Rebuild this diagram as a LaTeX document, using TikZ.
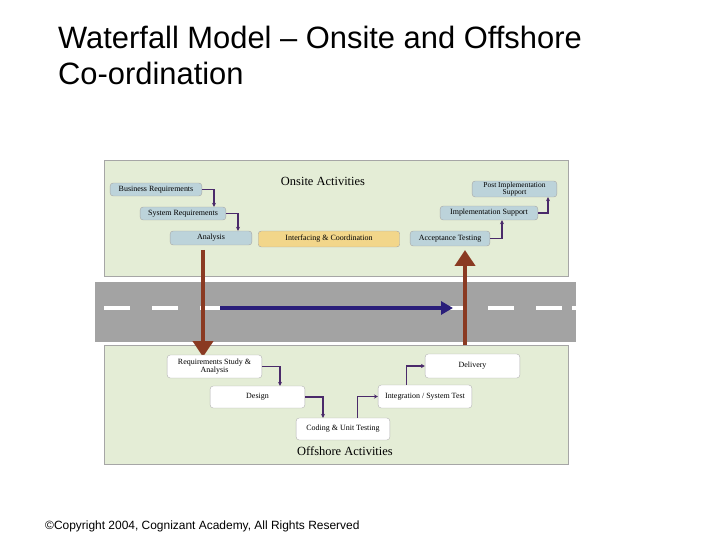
\documentclass[tikz,border=0pt]{standalone}
\usepackage{fontspec}
\setmainfont{Liberation Sans}
\newfontfamily\boxfont{Liberation Serif}
\usetikzlibrary{arrows.meta}
\definecolor{panel}{HTML}{E4EDD6}
\definecolor{bluebox}{HTML}{BCD3DA}
\definecolor{yellowbox}{HTML}{F2D68A}
\definecolor{road}{HTML}{A3A3A3}
\definecolor{navy}{HTML}{2A1E7A}
\definecolor{brownarr}{HTML}{8A3A22}
\definecolor{conn}{HTML}{4A2A6A}
\tikzset{
 every node/.style={inner sep=0pt},
 topbox/.style={draw=gray!70, fill=bluebox, rounded corners=3pt, font=\boxfont\fontsize{8}{8}\selectfont, align=center},
 botbox/.style={draw=gray!60, fill=white, rounded corners=3pt, font=\boxfont\fontsize{8}{8}\selectfont, align=center},
 flow/.style={draw=conn, line width=1.2pt, -{Stealth[length=4pt,width=4pt]}},
 panelst/.style={fill=panel, draw=gray!70, line width=0.6pt},
}
\begin{document}
\begin{tikzpicture}[x=1bp,y=-1bp]
\useasboundingbox (0,0) rectangle (720,540);
\fill[white] (0,0) rectangle (720,540);
\node[anchor=west, font=\fontsize{31}{31}\selectfont] (t1) at (58,37) {Waterfall Model – Onsite and Offshore};
\node[anchor=west, font=\fontsize{31}{31}\selectfont] (t2) at (58,73) {Co-ordination};
\node[anchor=west, font=\fontsize{12}{12}\selectfont] (cp) at (45,526) {©Copyright 2004, Cognizant Academy, All Rights Reserved};
% panels
\path[panelst] (104,160) rectangle (568,276);
\fill[road] (95,282) rectangle (576,342);
\foreach \x in {104,152,200,248,296,344,392,440,488,536} \fill[white] (\x,306) rectangle (\x+26,310);
\fill[white] (572,306) rectangle (576,310);
\path[panelst] (104,345) rectangle (568,464);
\node[font=\boxfont\fontsize{12.5}{12}\selectfont] (on) at (323,181) {Onsite Activities};
\node[font=\boxfont\fontsize{12.5}{12}\selectfont] (off) at (345,451) {Offshore Activities};
% big arrows
\coordinate (d1) at (203,250); \coordinate (d2) at (203,357);
\coordinate (u1) at (465,345); \coordinate (u2) at (465,250);
\draw[brownarr, line width=5pt, -{Triangle[length=16pt,width=20pt]}] (d1) -- (d2);
\draw[brownarr, line width=5pt, -{Triangle[length=16pt,width=20pt]}] (u1) -- (u2);
\coordinate (b1) at (220,308); \coordinate (b2) at (453,308);
\draw[navy, line width=3.5pt, -{Triangle[length=12pt,width=13pt]}] (b1) -- (b2);
% top boxes
\node[topbox, minimum width=92, minimum height=13] (br) at (156,189.5) {Business Requirements};
\node[topbox, minimum width=86, minimum height=13] (sr) at (183,213.5) {System Requirements};
\node[topbox, minimum width=82, minimum height=14] (an) at (211,238) {Analysis};
\node[topbox, fill=yellowbox, minimum width=142, minimum height=16] (ic) at (329,239) {Interfacing \& Coordination};
\node[topbox, minimum width=80, minimum height=15] (at) at (450,238.5) {Acceptance Testing};
\node[topbox, minimum width=98, minimum height=14] (is) at (489,213) {Implementation Support};
\node[topbox, font=\boxfont\fontsize{7.5}{7.5}\selectfont, minimum width=85, minimum height=16] (pi) at (514.5,189) {Post Implementation\\Support};
\draw[flow] (br.east) -| ([xshift=12]br.east |- sr.north);
\draw[flow] (sr.east) -| ([xshift=12]sr.east |- an.north);
\draw[flow] (at.east) -| ([xshift=12]at.east |- is.south);
\draw[flow] (is.east) -| ([xshift=10]is.east |- pi.south);
% bottom boxes
\node[botbox, minimum width=95, minimum height=23] (rs) at (214.5,366.5) {Requirements Study \&\\Analysis};
\node[botbox, minimum width=95, minimum height=22] (de) at (257.5,397) {Design};
\node[botbox, minimum width=94, minimum height=22] (cu) at (343,429) {Coding \& Unit Testing};
\node[botbox, minimum width=94, minimum height=23] (it) at (425,396.5) {Integration / System Test};
\node[botbox, minimum width=95, minimum height=24] (dl) at (472.5,366) {Delivery};
\draw[flow] (rs.east) -| ([xshift=18]rs.east |- de.north);
\draw[flow] (de.east) -| ([xshift=18]de.east |- cu.north);
\draw[flow] ([xshift=62]cu.north west) |- (it.west);
\draw[flow] ([xshift=29]it.north west) |- (dl.west);
\end{tikzpicture}
\end{document}
